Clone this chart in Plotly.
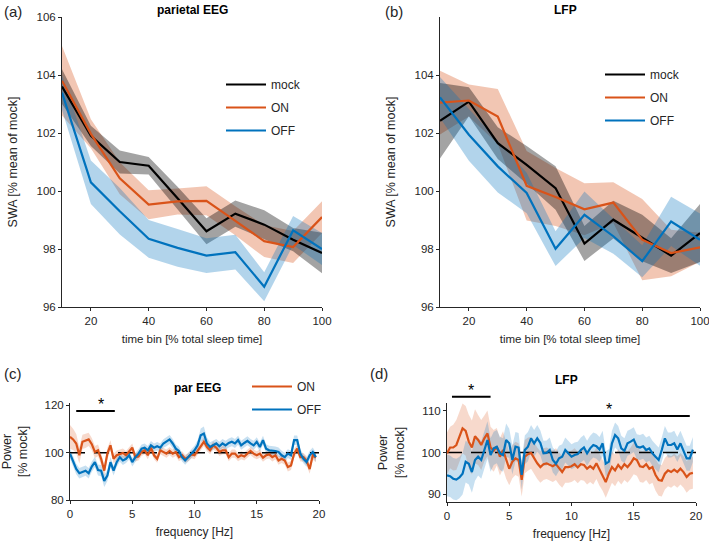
import plotly.graph_objects as go
import numpy as np

# ---------------- data ----------------
time_bins = [10, 20, 30, 40, 50, 60, 70, 80, 90, 100]

# (a) parietal EEG
eeg_mock = [103.6, 101.9, 101.0, 100.87, 99.75, 98.61, 99.22, 98.84, 98.32, 97.86]
eeg_mock_sem = [0.6, 0.35, 0.4, 0.3, 0.4, 0.45, 0.45, 0.5, 0.4, 0.7]
eeg_on = [103.8, 101.97, 100.44, 99.53, 99.64, 99.66, 98.97, 98.27, 98.07, 99.1]
eeg_on_sem = [1.2, 0.5, 0.55, 0.5, 0.45, 0.5, 0.5, 0.55, 0.55, 0.55]
eeg_off = [103.39, 100.3, 99.3, 98.35, 98.04, 97.77, 97.89, 96.7, 98.64, 98.0]
eeg_off_sem = [0.6, 0.75, 0.8, 0.65, 0.65, 0.6, 0.6, 0.5, 0.5, 0.55]

# (b) LFP
lfp_mock = [102.42, 103.08, 101.65, 100.9, 100.1, 98.19, 99.01, 98.38, 97.77, 98.55]
lfp_mock_sem = [1.3, 0.5, 0.55, 0.65, 0.75, 0.6, 0.65, 0.8, 0.6, 1.0]
lfp_on = [103.05, 103.12, 102.57, 100.18, 99.79, 99.37, 99.6, 98.32, 97.86, 98.06]
lfp_on_sem = [1.1, 0.55, 0.95, 1.2, 1.0, 0.9, 0.7, 1.4, 0.8, 0.5]
lfp_off = [103.23, 101.94, 100.85, 99.93, 98.01, 99.18, 98.44, 97.58, 98.95, 98.32]
lfp_off_sem = [0.7, 0.9, 0.9, 0.7, 0.6, 0.8, 0.6, 0.55, 0.85, 0.9]

# (c) & (d) spectra, 0.25 Hz bins
freqs = [0.0, 0.25, 0.5, 0.75, 1.0, 1.25, 1.5, 1.75, 2.0, 2.25, 2.5, 2.75, 3.0, 3.25, 3.5, 3.75,
         4.0, 4.25, 4.5, 4.75, 5.0, 5.25, 5.5, 5.75, 6.0, 6.25, 6.5, 6.75, 7.0, 7.25, 7.5, 7.75,
         8.0, 8.25, 8.5, 8.75, 9.0, 9.25, 9.5, 9.75, 10.0, 10.25, 10.5, 10.75, 11.0, 11.25, 11.5, 11.75,
         12.0, 12.25, 12.5, 12.75, 13.0, 13.25, 13.5, 13.75, 14.0, 14.25, 14.5, 14.75, 15.0, 15.25, 15.5, 15.75,
         16.0, 16.25, 16.5, 16.75, 17.0, 17.25, 17.5, 17.75, 18.0, 18.25, 18.5, 18.75, 19.0, 19.25, 19.5, 19.75]

par_on = [106.7, 105.6, 103.9, 98.9, 104.6, 105.0, 105.6, 103.6, 100.3, 101.0,
          97.4, 92.4, 99.6, 103.1, 97.4, 98.9, 99.3, 99.9, 98.9, 100.3,
          102.1, 98.1, 98.4, 100.3, 101.0, 98.9, 102.1, 98.9, 97.4, 101.0,
          100.3, 99.6, 100.7, 99.6, 100.3, 98.1, 98.9, 97.4, 98.1, 99.3,
          98.9, 101.0, 102.7, 104.6, 102.4, 101.0, 103.1, 102.1, 100.3, 101.0,
          101.0, 98.1, 99.6, 99.6, 98.1, 98.9, 98.4, 99.6, 100.7, 99.6,
          98.9, 99.6, 97.9, 98.9, 99.3, 98.1, 98.9, 96.7, 97.4, 96.7,
          93.9, 94.6, 99.6, 101.7, 98.1, 98.1, 96.7, 93.1, 98.9, 97.9]
par_on_sem = [5.0, 4.5, 4.0, 3.5, 3.0, 3.0, 2.8, 2.6, 2.5, 2.5,
              2.5, 2.5, 2.4, 2.2, 2.0, 2.0, 2.0, 1.9, 1.8, 1.8,
              1.8, 1.8, 1.7, 1.7, 1.7, 1.7, 1.7, 1.7, 1.7, 1.7,
              1.7, 1.7, 1.7, 1.7, 1.7, 1.7, 1.7, 1.7, 1.7, 1.7,
              1.7, 1.7, 1.8, 1.8, 1.8, 1.7, 1.7, 1.7, 1.7, 1.7,
              1.7, 1.7, 1.7, 1.7, 1.7, 1.7, 1.7, 1.7, 1.7, 1.7,
              1.7, 1.7, 1.7, 1.7, 1.8, 1.8, 1.8, 1.8, 1.8, 1.8,
              1.9, 1.9, 1.8, 1.8, 1.8, 1.8, 1.9, 2.0, 1.9, 1.9]
par_off = [99.6, 96.0, 93.1, 91.3, 91.7, 92.4, 91.3, 94.1, 96.0, 92.7,
           92.4, 88.1, 90.3, 96.0, 92.4, 96.0, 98.1, 96.7, 97.4, 98.9,
           96.0, 98.1, 99.6, 101.7, 102.1, 101.0, 103.1, 102.1, 102.7, 102.1,
           103.9, 104.6, 105.6, 103.9, 101.7, 100.7, 98.1, 96.7, 98.1, 99.6,
           101.0, 103.1, 107.4, 108.1, 103.9, 102.4, 103.1, 103.9, 102.7, 103.9,
           103.1, 104.1, 104.6, 103.9, 105.3, 103.1, 104.1, 105.0, 103.9, 103.1,
           104.6, 102.4, 105.3, 101.7, 101.0, 101.0, 100.7, 100.3, 98.9, 98.1,
           99.6, 98.9, 105.3, 105.3, 99.6, 97.4, 96.0, 98.9, 100.3, 98.1]
par_off_sem = [2.2, 2.2, 2.2, 2.2, 2.2, 2.2, 2.2, 2.2, 2.2, 2.3,
               2.4, 2.6, 2.4, 2.2, 2.0, 2.0, 1.9, 1.9, 1.8, 1.8,
               1.8, 1.8, 1.8, 1.8, 1.8, 1.8, 1.8, 1.8, 1.8, 1.8,
               1.8, 1.9, 1.9, 1.9, 1.8, 1.8, 1.8, 1.8, 1.8, 1.8,
               1.9, 2.2, 2.8, 3.0, 2.5, 2.0, 1.9, 1.9, 1.9, 1.9,
               1.9, 1.9, 1.9, 1.9, 1.9, 1.9, 1.9, 1.9, 1.9, 1.9,
               1.9, 1.9, 1.9, 1.9, 1.9, 1.9, 1.9, 1.9, 1.9, 1.9,
               1.9, 1.9, 2.0, 2.0, 1.9, 1.9, 1.9, 1.9, 1.9, 1.9]

lfpspec_on = [99.8, 101.2, 101.2, 101.8, 103.8, 105.8, 105.2, 102.6, 101.2, 103.9,
              103.0, 101.8, 103.4, 104.6, 101.2, 100.4, 101.4, 99.0, 100.6, 98.2,
              96.1, 97.8, 98.6, 98.2, 93.4, 99.0, 99.6, 99.9, 98.6, 97.4,
              96.5, 97.2, 97.4, 97.0, 96.7, 97.2, 96.1, 95.3, 96.5, 96.5,
              96.7, 97.2, 96.4, 97.2, 97.0, 96.1, 96.7, 96.1, 97.4, 95.8,
              94.6, 92.9, 94.9, 96.5, 95.7, 97.0, 96.1, 97.2, 96.5, 97.4,
              98.6, 98.2, 96.7, 96.5, 97.2, 96.1, 96.5, 94.6, 93.4, 93.2,
              94.9, 95.7, 95.3, 95.9, 95.3, 96.1, 95.3, 94.1, 94.9, 95.1]
lfpspec_on_sem = [5.0, 5.0, 5.5, 6.0, 6.0, 6.0, 6.0, 6.5, 6.5, 6.5,
                  6.0, 6.0, 5.5, 5.5, 5.0, 5.0, 4.5, 4.5, 4.5, 4.5,
                  4.0, 4.0, 4.0, 4.0, 4.0, 4.0, 4.0, 3.8, 3.8, 3.8,
                  3.8, 3.8, 3.8, 3.8, 3.8, 3.8, 3.8, 3.8, 3.8, 3.8,
                  3.8, 3.8, 3.8, 3.8, 3.8, 3.8, 3.8, 3.8, 3.8, 3.8,
                  3.8, 3.8, 3.8, 3.8, 3.8, 3.8, 3.8, 3.8, 3.8, 3.8,
                  3.8, 3.8, 3.8, 3.8, 3.8, 3.8, 3.8, 3.8, 3.8, 3.8,
                  3.8, 3.8, 3.8, 3.8, 3.8, 3.8, 3.8, 3.8, 3.8, 3.8]
lfpspec_off = [94.5, 94.3, 93.7, 93.5, 94.0, 94.9, 97.8, 97.3, 95.3, 98.2,
               99.0, 98.2, 100.6, 103.0, 99.4, 101.0, 101.4, 99.8, 99.4, 103.0,
               102.2, 98.2, 101.4, 101.2, 94.6, 100.6, 101.4, 103.4, 102.2, 103.4,
               102.3, 99.8, 99.9, 100.6, 98.2, 97.3, 98.6, 99.0, 100.6, 99.8,
               99.0, 99.4, 99.6, 100.6, 101.2, 99.8, 101.0, 101.8, 101.5, 100.7,
               102.2, 97.3, 97.8, 102.2, 104.2, 103.4, 101.0, 100.4, 102.2, 102.6,
               103.1, 101.4, 101.2, 101.5, 100.6, 101.0, 99.8, 99.0, 98.2, 100.6,
               103.4, 101.8, 101.8, 102.2, 100.7, 102.2, 100.4, 98.6, 98.6, 100.7]
lfpspec_off_sem = [5.0, 5.0, 5.0, 5.0, 5.0, 5.0, 5.0, 5.0, 5.0, 5.0,
                   4.5, 4.5, 4.5, 4.5, 4.0, 4.0, 4.0, 4.0, 4.0, 4.0,
                   3.5, 3.5, 3.5, 3.5, 3.5, 3.5, 3.5, 3.2, 3.2, 3.2,
                   3.0, 3.0, 3.0, 3.0, 3.0, 3.0, 3.0, 3.0, 3.0, 3.0,
                   3.0, 3.0, 3.0, 3.0, 3.0, 3.0, 3.0, 3.0, 3.0, 3.0,
                   3.0, 3.0, 3.0, 3.0, 3.0, 3.0, 3.0, 3.0, 3.0, 3.0,
                   3.0, 3.0, 3.0, 3.0, 3.0, 3.0, 3.0, 3.0, 3.0, 3.0,
                   3.0, 3.0, 3.0, 3.0, 3.0, 3.0, 3.0, 3.0, 3.0, 3.0]

# significance bars: (x_start, x_end, y)
sig_c = [(0.5, 3.6, 117.6)]
sig_d = [(0.4, 3.5, 113.4), (7.4, 19.5, 108.8)]

# ---------------- style ----------------
# the page's body margin is removed (post_script), so the figure fills the 709x548 window
OX, OY = 0, 0
W, H = 709, 548
FONT = "Liberation Sans, Arial, sans-serif"
TXT = "#262626"
C_MOCK = "#000000"
C_ON = "#D95319"
C_OFF = "#0072BD"

def rgba(hexc, a):
    h = hexc.lstrip("#")
    return "rgba(%d,%d,%d,%.2f)" % (int(h[0:2], 16), int(h[2:4], 16), int(h[4:6], 16), a)

def fx(x):
    return (x - OX) / W

def fy(y):
    return 1 - (y - OY) / H

def px_dom(x0, x1, y0, y1):
    return [fx(x0), fx(x1)], [fy(y1), fy(y0)]

dom_a = px_dom(62, 322, 17, 307)
dom_b = px_dom(440, 700, 17, 307)
dom_c = px_dom(70, 319, 403, 500)
dom_d = px_dom(447, 696, 403, 502)

rng_top_x = [10, 100]
rng_top_y = [96, 106]
rng_c_x = [0, 20]
rng_c_y = [80, 121]
rng_d_x = [0, 20]
rng_d_y = [88.1, 111.9]

fig = go.Figure()

def band(x, m, s, color, alpha, xa, ya):
    up = [a + b for a, b in zip(m, s)]
    lo = [a - b for a, b in zip(m, s)]
    fig.add_trace(go.Scatter(x=list(x) + list(x)[::-1], y=up + lo[::-1], fill="toself",
                             fillcolor=rgba(color, alpha), line=dict(width=0), mode="lines",
                             showlegend=False, hoverinfo="skip", xaxis=xa, yaxis=ya))

def line(x, m, color, name, xa, ya, legend, show=True, w=2.2):
    fig.add_trace(go.Scatter(x=x, y=m, mode="lines", line=dict(color=color, width=w),
                             name=name, legendgroup=name + legend, showlegend=show,
                             legend=legend, xaxis=xa, yaxis=ya))

# (a)
band(time_bins, eeg_on, eeg_on_sem, C_ON, 0.33, "x", "y")
band(time_bins, eeg_mock, eeg_mock_sem, C_MOCK, 0.36, "x", "y")
band(time_bins, eeg_off, eeg_off_sem, C_OFF, 0.30, "x", "y")
line(time_bins, eeg_mock, C_MOCK, "mock", "x", "y", "legend")
line(time_bins, eeg_on, C_ON, "ON", "x", "y", "legend")
line(time_bins, eeg_off, C_OFF, "OFF", "x", "y", "legend")
# (b)
band(time_bins, lfp_on, lfp_on_sem, C_ON, 0.33, "x2", "y2")
band(time_bins, lfp_mock, lfp_mock_sem, C_MOCK, 0.36, "x2", "y2")
band(time_bins, lfp_off, lfp_off_sem, C_OFF, 0.30, "x2", "y2")
line(time_bins, lfp_mock, C_MOCK, "mock", "x2", "y2", "legend2")
line(time_bins, lfp_on, C_ON, "ON", "x2", "y2", "legend2")
line(time_bins, lfp_off, C_OFF, "OFF", "x2", "y2", "legend2")
# (c)
band(freqs, par_on, par_on_sem, C_ON, 0.22, "x3", "y3")
band(freqs, par_off, par_off_sem, C_OFF, 0.22, "x3", "y3")
fig.add_trace(go.Scatter(x=[0, 20], y=[100, 100], mode="lines", showlegend=False,
                         line=dict(color="#000000", width=1.5, dash="15px,9px"), xaxis="x3", yaxis="y3"))
line(freqs, par_on, C_ON, "ON", "x3", "y3", "legend3")
line(freqs, par_off, C_OFF, "OFF", "x3", "y3", "legend3")
# (d)
band(freqs, lfpspec_on, lfpspec_on_sem, C_ON, 0.22, "x4", "y4")
band(freqs, lfpspec_off, lfpspec_off_sem, C_OFF, 0.22, "x4", "y4")
fig.add_trace(go.Scatter(x=[0, 20], y=[100, 100], mode="lines", showlegend=False,
                         line=dict(color="#000000", width=1.5, dash="15px,9px"), xaxis="x4", yaxis="y4"))
line(freqs, lfpspec_on, C_ON, "ON", "x4", "y4", "legend4", show=False)
line(freqs, lfpspec_off, C_OFF, "OFF", "x4", "y4", "legend4", show=False)

def ax(dom, rng, **kw):
    d = dict(domain=dom, range=rng, showline=True, linecolor=TXT, linewidth=1,
             ticks="outside", ticklen=3, tickcolor=TXT, showgrid=False, zeroline=False,
             automargin=False, ticklabeloverflow="allow",
             tickfont=dict(family=FONT, size=11.5, color=TXT), fixedrange=True)
    d.update(kw)
    return d

XT = dict(size=11.5)
YT = dict(size=12.5)
LEG = dict(family=FONT, size=12, color=TXT)

fig.update_layout(
    width=W, height=H, margin=dict(l=0, r=0, t=0, b=0, autoexpand=False),
    paper_bgcolor="white", plot_bgcolor="white", showlegend=True,
    font=dict(family=FONT, color=TXT),
    xaxis=ax(dom_a[0], rng_top_x, anchor="y", tickvals=[20, 40, 60, 80, 100],
             title=dict(text="time bin [% total sleep time]", font=XT, standoff=9)),
    yaxis=ax(dom_a[1], rng_top_y, anchor="x", tickvals=[96, 98, 100, 102, 104, 106],
             title=dict(text="SWA [% mean of mock]", font=YT, standoff=16)),
    xaxis2=ax(dom_b[0], rng_top_x, anchor="y2", tickvals=[20, 40, 60, 80, 100],
              title=dict(text="time bin [% total sleep time]", font=XT, standoff=9)),
    yaxis2=ax(dom_b[1], rng_top_y, anchor="x2", tickvals=[96, 98, 100, 102, 104],
              title=dict(text="SWA [% mean of mock]", font=YT, standoff=16)),
    xaxis3=ax(dom_c[0], rng_c_x, anchor="y3", tickvals=[0, 5, 10, 15, 20],
              title=dict(text="frequency [Hz]", font=dict(size=12), standoff=8)),
    yaxis3=ax(dom_c[1], rng_c_y, anchor="x3", tickvals=[80, 100, 120],
              title=dict(text="Power<br>[% mock]", font=YT, standoff=14)),
    xaxis4=ax(dom_d[0], rng_d_x, anchor="y4", tickvals=[0, 5, 10, 15, 20],
              title=dict(text="frequency [Hz]", font=dict(size=12), standoff=8)),
    yaxis4=ax(dom_d[1], rng_d_y, anchor="x4", tickvals=[90, 100, 110],
              title=dict(text="Power<br>[% mock]", font=YT, standoff=14)),
    legend=dict(x=fx(221), y=fy(70), xanchor="left", yanchor="top", bgcolor="rgba(0,0,0,0)",
                font=LEG, tracegroupgap=4, itemwidth=40),
    legend2=dict(x=fx(600), y=fy(60), xanchor="left", yanchor="top", bgcolor="rgba(0,0,0,0)",
                 font=LEG, tracegroupgap=4, itemwidth=40),
    legend3=dict(x=fx(247), y=fy(372), xanchor="left", yanchor="top", bgcolor="rgba(0,0,0,0)",
                 font=LEG, tracegroupgap=4, itemwidth=40),
)

def px_x(dom, rng, v):
    return dom[0] + (v - rng[0]) / (rng[1] - rng[0]) * (dom[1] - dom[0])

def px_y(dom, rng, v):
    return dom[0] + (v - rng[0]) / (rng[1] - rng[0]) * (dom[1] - dom[0])

def sig(dom, rx, ry, x0, x1, y):
    fig.add_shape(type="line", xref="paper", yref="paper",
                  x0=px_x(dom[0], rx, x0), x1=px_x(dom[0], rx, x1),
                  y0=px_y(dom[1], ry, y), y1=px_y(dom[1], ry, y),
                  line=dict(color="#000000", width=2))
    fig.add_annotation(xref="paper", yref="paper", x=px_x(dom[0], rx, (x0 + x1) / 2),
                       y=px_y(dom[1], ry, y), yanchor="bottom", yshift=-4, text="*",
                       showarrow=False, font=dict(family=FONT, size=16, color="#000000"))

for s in sig_c:
    sig(dom_c, rng_c_x, rng_c_y, *s)
for s in sig_d:
    sig(dom_d, rng_d_x, rng_d_y, *s)

def label(x, y, text, size=11, bold=False, xanchor="center"):
    fig.add_annotation(xref="paper", yref="paper", x=fx(x), y=fy(y), text=("<b>%s</b>" % text) if bold else text,
                       showarrow=False, xanchor=xanchor, yanchor="middle",
                       font=dict(family=FONT, size=size, color="#000000" if bold else TXT))

label(192, 10, "parietal EEG", 12, True)
label(565, 10, "LFP", 12, True)
label(197, 388, "par EEG", 12, True)
label(566, 380, "LFP", 12, True)
label(2, 11, "(a)", 15, xanchor="left")
label(383, 11, "(b)", 15, xanchor="left")
label(2, 373, "(c)", 15, xanchor="left")
label(368, 373, "(d)", 15, xanchor="left")

fig.write_html("out.html", config={"displayModeBar": False},
               post_script="document.body.style.margin='0';document.body.style.overflow='hidden';")
